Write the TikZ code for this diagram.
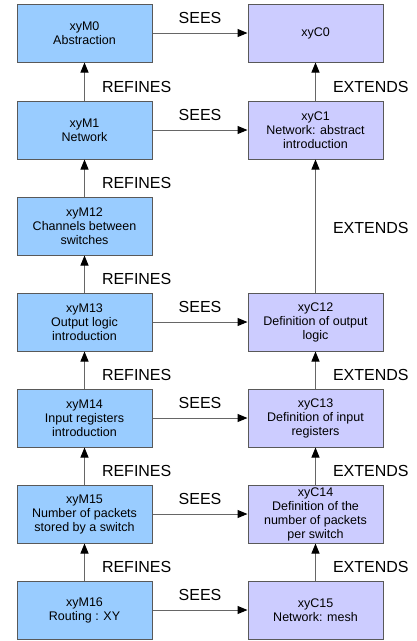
\documentclass[tikz,border=0pt]{standalone}
\usepackage{fontspec}
\setmainfont{Liberation Sans}
\usetikzlibrary{
    arrows.meta,
    positioning
}
\definecolor{machblue}{RGB}{153,204,255}
\definecolor{ctxlilac}{RGB}{204,204,255}
\tikzset{mach/.style={draw=black!65, line width=1pt, fill=machblue, minimum width=135pt, minimum height=58pt, inner sep=1pt, align=center, font=\fontsize{12.5}{14}\selectfont}}
\tikzset{ctx/.style={mach, fill=ctxlilac}}
\tikzset{rel/.style={draw=black!60, line width=1pt, -{Triangle[length=10pt, width=8pt, color=black]}}}
\tikzset{vlbl/.style={font=\fontsize{16}{18}\selectfont, inner sep=0pt, anchor=west, xshift=17pt, yshift=-5pt}}
\tikzset{hlbl/.style={font=\fontsize{16}{18}\selectfont, inner sep=0pt, anchor=base, yshift=10pt}}

\begin{document}
\begin{tikzpicture}[x=1pt, y=1pt]
                        \useasboundingbox (0, 0) rectangle (416, -641);

                        % machines
                        \node[mach] (m0) at (84.5, -33) {xyM0\\Abstraction};
                        \node[mach] (m1) at (84.5, -130) {xyM1\\Network};
                        \node[mach] (m12) at (84.5, -226) {xyM12\\Channels between\\switches};
                        \node[mach] (m13) at (84.5, -322) {xyM13\\Output logic\\introduction};
                        \node[mach] (m14) at (84.5, -418) {xyM14\\Input registers\\introduction};
                        \node[mach] (m15) at (84.5, -514) {xyM15\\Number of packets\\stored by a switch};
                        \node[mach] (m16) at (84.5, -610) {xyM16\\Routing : XY};

                        % contexts
                        \node[ctx] (c0) at (315.5, -33) {xyC0};
                        \node[ctx] (c1) at (315.5, -130) {xyC1\\Network: abstract\\introduction};
                        \node[ctx] (c12) at (315.5, -322) {xyC12\\Definition of output\\logic};
                        \node[ctx] (c13) at (315.5, -418) {xyC13\\Definition of input\\registers};
                        \node[ctx] (c14) at (315.5, -514) {xyC14\\Definition of the\\number of packets\\per switch};
                        \node[ctx] (c15) at (315.5, -610) {xyC15\\Network: mesh};

                        \draw[rel] (m1) -- node[vlbl] {REFINES} (m0);
                        \draw[rel] (m12) -- node[vlbl] {REFINES} (m1);
                        \draw[rel] (m13) -- node[vlbl] {REFINES} (m12);
                        \draw[rel] (m14) -- node[vlbl] {REFINES} (m13);
                        \draw[rel] (m15) -- node[vlbl] {REFINES} (m14);
                        \draw[rel] (m16) -- node[vlbl] {REFINES} (m15);

                        \draw[rel] (c1) -- node[vlbl] {EXTENDS} (c0);
                        \draw[rel] (c12) -- node[vlbl, yshift=3pt] {EXTENDS} (c1);
                        \draw[rel] (c13) -- node[vlbl] {EXTENDS} (c12);
                        \draw[rel] (c14) -- node[vlbl] {EXTENDS} (c13);
                        \draw[rel] (c15) -- node[vlbl] {EXTENDS} (c14);

                        \draw[rel] (m0) -- node[hlbl] {SEES} (c0);
                        \draw[rel] (m1) -- node[hlbl] {SEES} (c1);
                        \draw[rel] (m13) -- node[hlbl] {SEES} (c12);
                        \draw[rel] (m14) -- node[hlbl] {SEES} (c13);
                        \draw[rel] (m15) -- node[hlbl] {SEES} (c14);
                        \draw[rel] (m16) -- node[hlbl] {SEES} (c15);
\end{tikzpicture}
\end{document}
